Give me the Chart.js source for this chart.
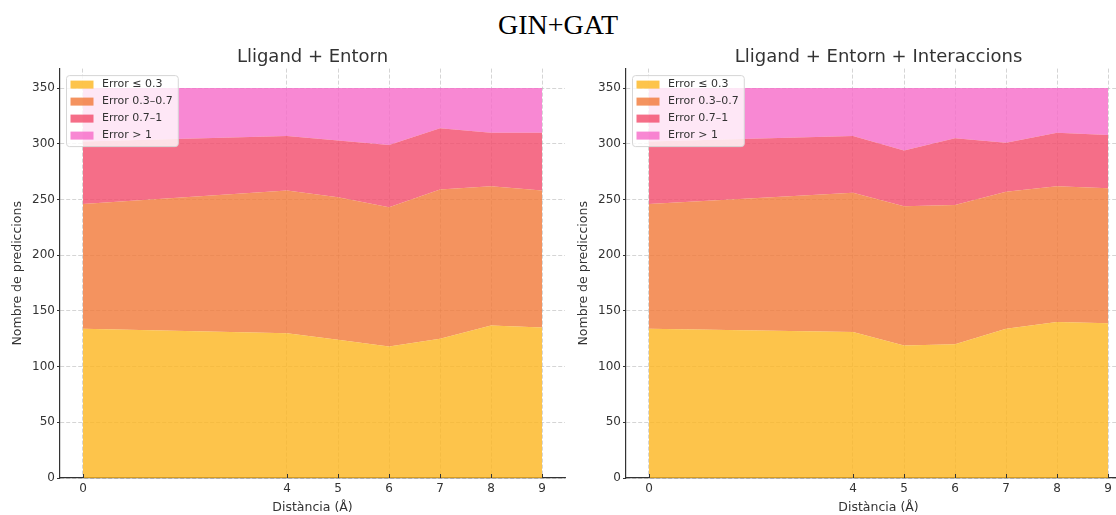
<!DOCTYPE html>
<html lang="ca">
<head>
<meta charset="utf-8">
<title>GIN+GAT</title>
<script src="https://cdn.jsdelivr.net/npm/chart.js@4.4.1/dist/chart.umd.min.js"></script>
<style>
  html, body { margin: 0; padding: 0; background: #fff; }
  body { position: relative; width: 1116px; height: 515px; overflow: hidden; }
  #suptitle {
    position: absolute; left: 0; top: 10.5px; width: 1116px;
    text-align: center; font: 28px/28px "Liberation Serif", "Times New Roman", serif; color: #000;
  }
  canvas { position: absolute; top: 41px; }
  #c1 { left: 0; }
  #c2 { left: 566px; }
</style>
</head>
<body>
<div id="suptitle">GIN+GAT</div>
<canvas id="c1" width="566" height="474"></canvas>
<canvas id="c2" width="566" height="474"></canvas>
<script>
// Distances (Å) at which predictions were evaluated
const DIST = [0, 4, 5, 6, 7, 8, 9];
const X_TICKS = [0, 4, 5, 6, 7, 8, 9];
const Y_TICKS = [0, 50, 100, 150, 200, 250, 300, 350];
const SERIES_LABELS = ['Error \u2264 0.3', 'Error 0.3\u20130.7', 'Error 0.7\u20131', 'Error > 1'];

// Lligand + Entorn: predictions per error band
const LE_LOW  = [134, 130, 124, 118, 125, 137, 135];
const LE_MID  = [112, 128, 128, 125, 134, 125, 123];
const LE_HIGH = [56, 49, 51, 56, 55, 48, 52];
const LE_OVER = [48, 43, 47, 51, 36, 40, 40];

// Lligand + Entorn + Interaccions: predictions per error band
const LEI_LOW  = [134, 131, 119, 120, 134, 140, 139];
const LEI_MID  = [112, 125, 125, 125, 123, 122, 121];
const LEI_HIGH = [56, 51, 50, 60, 44, 48, 48];
const LEI_OVER = [48, 43, 56, 45, 49, 40, 42];

const FILLS = [
  'rgba(252, 181, 30, 0.8)',
  'rgba(241, 120, 55, 0.8)',
  'rgba(242, 74, 106, 0.8)',
  'rgba(246, 106, 200, 0.8)'
];
const GRID = 'rgba(176, 176, 176, 0.6)';
const INK = '#333333';

Chart.defaults.font.family = '"DejaVu Sans", sans-serif';
Chart.defaults.color = INK;

// Legend box drawn inside the upper-left corner of the plot area
const insideLegend = {
  id: 'insideLegend',
  afterDraw(chart) {
    const { ctx, chartArea } = chart;
    const items = chart.data.datasets;
    ctx.save();
    ctx.font = '11px "DejaVu Sans", sans-serif';
    const rowH = 17, patchW = 23, patchH = 8;
    const textW = Math.max(...items.map(d => ctx.measureText(d.label).width));
    const x0 = chartArea.left + 6.5, y0 = chartArea.top + 7;
    const w = 4 + patchW + 8.5 + textW + 5.5;
    const h = rowH * items.length + 3;
    ctx.beginPath();
    ctx.roundRect(x0, y0, w, h, 3);
    ctx.fillStyle = 'rgba(255, 255, 255, 0.8)';
    ctx.fill();
    ctx.strokeStyle = '#d6d6d6';
    ctx.lineWidth = 1;
    ctx.stroke();
    ctx.textBaseline = 'middle';
    ctx.textAlign = 'left';
    items.forEach((d, i) => {
      const cy = y0 + 9 + i * rowH;
      ctx.fillStyle = d.backgroundColor;
      ctx.fillRect(x0 + 4, cy - patchH / 2, patchW, patchH);
      ctx.fillStyle = INK;
      ctx.fillText(d.label, x0 + 4 + patchW + 8.5, cy);
    });
    ctx.restore();
  }
};

// Short inward tick marks on the distance axis
const innerTicks = {
  id: 'innerTicks',
  afterDatasetsDraw(chart) {
    const { ctx } = chart;
    const x = chart.scales.x;
    ctx.save();
    ctx.strokeStyle = INK;
    ctx.lineWidth = 1;
    x.ticks.forEach(t => {
      const px = Math.round(x.getPixelForValue(t.value)) + 0.5;
      ctx.beginPath();
      ctx.moveTo(px, x.top);
      ctx.lineTo(px, x.top - 4);
      ctx.stroke();
    });
    ctx.restore();
  }
};

function buildChart(canvasId, title, series) {
  const datasets = SERIES_LABELS.map((label, i) => ({
    label,
    data: DIST.map((d, j) => ({ x: d, y: series[i][j] })),
    backgroundColor: FILLS[i],
    borderWidth: 0,
    pointRadius: 0,
    pointHoverRadius: 0,
    tension: 0,
    fill: i === 0 ? 'origin' : '-1'
  }));

  return new Chart(document.getElementById(canvasId), {
    type: 'line',
    data: { datasets },
    plugins: [innerTicks, insideLegend],
    options: {
      responsive: false,
      animation: false,
      devicePixelRatio: 1,
      events: [],
      layout: { padding: { left: 0, right: 1, top: 0, bottom: 0 } },
      plugins: {
        legend: { display: false },
        tooltip: { enabled: false },
        title: {
          display: true,
          text: title,
          fullSize: false,
          color: INK,
          font: { size: 18, weight: 'normal' },
          padding: { top: 6, bottom: 0 }
        }
      },
      scales: {
        x: {
          type: 'linear',
          min: -0.45,
          max: 9.45,
          afterBuildTicks: s => { s.ticks = X_TICKS.map(v => ({ value: v })); },
          afterFit: s => { s.height = 37; },
          ticks: { autoSkip: false, maxRotation: 0, padding: 4, font: { size: 12 }, color: INK,
                   callback: v => String(v) },
          grid: { color: GRID, lineWidth: 0.9, drawTicks: false },
          border: { display: true, color: INK, width: 1.2, dash: [4, 2] },
          title: { display: true, text: 'Dist\u00e0ncia (\u00c5)', color: INK,
                   font: { size: 12.5 }, padding: { top: 0, bottom: 0 } }
        },
        y: {
          type: 'linear',
          stacked: true,
          min: 0,
          max: 367.5,
          afterBuildTicks: s => { s.ticks = Y_TICKS.map(v => ({ value: v })); },
          afterFit: s => { s.width = 60; },
          ticks: { padding: 2, font: { size: 12 }, color: INK },
          grid: { color: GRID, lineWidth: 0.9, drawTicks: true, tickLength: 3,
                  tickColor: INK, tickWidth: 1, tickBorderDash: [] },
          border: { display: true, color: INK, width: 1.2, dash: [4, 2] },
          title: { display: true, text: 'Nombre de prediccions', color: INK,
                   font: { size: 12.5 }, padding: { top: 10, bottom: 0 } }
        }
      }
    }
  });
}

buildChart('c1', 'Lligand + Entorn', [LE_LOW, LE_MID, LE_HIGH, LE_OVER]);
buildChart('c2', 'Lligand + Entorn + Interaccions', [LEI_LOW, LEI_MID, LEI_HIGH, LEI_OVER]);
</script>
</body>
</html>
